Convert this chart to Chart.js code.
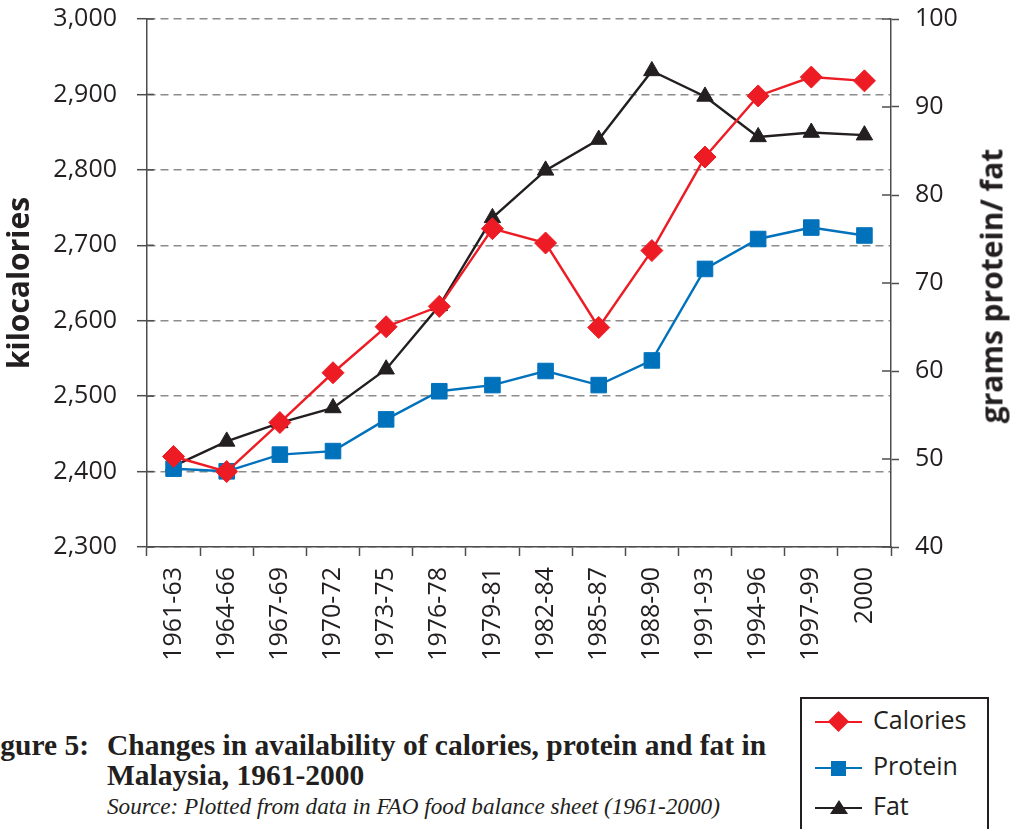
<!DOCTYPE html>
<html>
<head>
<meta charset="utf-8">
<script src="https://cdn.jsdelivr.net/npm/chart.js@4.4.1/dist/chart.umd.min.js"></script>
<style>
  html, body { margin: 0; padding: 0; background: #fff; }
  body { width: 1011px; height: 829px; position: relative; overflow: hidden; color: #231f20; }
  /* the canvas starts a little above the page so the plot top sits at y=19 */
  #wrap { position: absolute; left: 0; top: -16px; width: 1011px; height: 706px; }
  .rtitle {
    position: absolute; left: 991px; top: 286px;
    transform: translate(-50%, -50%) rotate(-90deg);
    font: bold 30px "Open Sans", sans-serif; white-space: nowrap;
  }
  .cap { position: absolute; white-space: nowrap; font-family: "Liberation Serif", "Times New Roman", serif; }
  .fig { font-weight: bold; font-size: 29.5px; line-height: 34px; }
  .src { font-style: italic; font-size: 23.2px; line-height: 26px; }
  #legend {
    position: absolute; left: 800px; top: 697px; width: 189px; height: 150px;
    border: 2px solid #231f20; box-sizing: border-box;
  }
  .item { position: absolute; left: 0; height: 40px; width: 100%; }
  .item .ln { position: absolute; left: 13px; width: 47px; height: 2px; top: 19px; }
  .item .mk { position: absolute; }
  .item .tx { position: absolute; left: 71px; top: 0; line-height: 40px; font: 25px "Open Sans", sans-serif; }
</style>
</head>
<body>
<div id="wrap"><canvas id="c"></canvas></div>
<div class="rtitle">grams protein/ fat</div>

<div class="cap fig" style="right:922px; top:728px;">Figure 5:</div>
<div class="cap fig" style="left:107px; top:728px;">Changes in availability of calories, protein and fat in</div>
<div class="cap fig" style="left:107px; top:758px;">Malaysia, 1961-2000</div>
<div class="cap src" style="left:107px; top:793px;">Source: Plotted from data in FAO food balance sheet (1961-2000)</div>

<div id="legend"></div>

<script>
// Three-year averages of food availability, Malaysia
const periods = ['1961-63', '1964-66', '1967-69', '1970-72', '1973-75', '1976-78', '1979-81',
                 '1982-84', '1985-87', '1988-90', '1991-93', '1994-96', '1997-99', '2000'];
const calories = [2420, 2400, 2465, 2531, 2592, 2619, 2722, 2703, 2591, 2693, 2817, 2898, 2923, 2918];
const protein  = [48.9, 48.6, 50.5, 50.9, 54.5, 57.7, 58.4, 60.0, 58.4, 61.2, 71.6, 75.0, 76.3, 75.4];
const fat      = [49.2, 52.0, 54.1, 55.8, 60.2, 67.4, 77.4, 82.8, 86.3, 94.1, 91.2, 86.6, 87.1, 86.8];

const seriesNames = ['Calories', 'Protein', 'Fat'];
const seriesColors = ['#ed1c24', '#0072bc', '#231f20'];

const INK = '#231f20';
const AXIS = '#4d4d4d';
const TICK_FONT = { family: 'Open Sans', size: 25 };

// short tick stubs on the inner side of both value axes
const innerTicks = {
  id: 'innerTicks',
  beforeDatasetsDraw(chart) {
    const { ctx } = chart;
    const y = chart.scales.y, y1 = chart.scales.y1;
    ctx.save();
    ctx.strokeStyle = AXIS;
    ctx.lineWidth = 1.5;
    y.ticks.forEach((t, i) => {
      const p = y.getPixelForTick(i);
      ctx.beginPath(); ctx.moveTo(y.right, p); ctx.lineTo(y.right + 7, p); ctx.stroke();
    });
    y1.ticks.forEach((t, i) => {
      const p = y1.getPixelForTick(i);
      ctx.beginPath(); ctx.moveTo(y1.left, p); ctx.lineTo(y1.left - 9, p); ctx.stroke();
    });
    ctx.restore();
  }
};

function buildChart() {
  const ctx = document.getElementById('c');
  new Chart(ctx, {
    type: 'line',
    data: {
      labels: periods,
      datasets: [
        { label: seriesNames[0], data: calories, yAxisID: 'y',
          borderColor: seriesColors[0], backgroundColor: seriesColors[0],
          pointStyle: 'rectRot', pointRadius: 11, pointBorderWidth: 1 },
        { label: seriesNames[1], data: protein, yAxisID: 'y1',
          borderColor: seriesColors[1], backgroundColor: seriesColors[1],
          pointStyle: 'rect', pointRadius: 11, pointBorderWidth: 1 },
        { label: seriesNames[2], data: fat, yAxisID: 'y1',
          borderColor: seriesColors[2], backgroundColor: seriesColors[2],
          pointStyle: 'triangle', pointRadius: 9.5, pointBorderWidth: 1 }
      ]
    },
    options: {
      responsive: true,
      maintainAspectRatio: false,
      animation: false,
      events: [],
      layout: { padding: { top: 4, left: 0, right: 0, bottom: 0 } },
      elements: { line: { borderWidth: 2.4, tension: 0 } },
      plugins: { legend: { display: false }, tooltip: { enabled: false } },
      scales: {
        x: {
          offset: true,
          grid: { display: true, drawOnChartArea: false, offset: true,
                  tickLength: 9, tickColor: AXIS, tickWidth: 1.5 },
          border: { color: AXIS, width: 1.5 },
          ticks: { color: INK, font: TICK_FONT, minRotation: 90, maxRotation: 90,
                   autoSkip: false, padding: 11 },
          afterFit(s) { s.height = 143; }
        },
        y: {
          position: 'left',
          min: 2300, max: 3000,
          grid: { color: '#8c8c8c', lineWidth: 1.4, tickLength: 10,
                  tickColor: AXIS, tickWidth: 1.5 },
          border: { color: AXIS, width: 1.5, dash: [8, 5] },
          ticks: { stepSize: 100, color: INK, font: TICK_FONT, padding: 20,
                   callback: v => v.toLocaleString('en-US') },
          title: { display: true, text: 'kilocalories', color: INK,
                   font: { family: 'Open Sans', size: 30, weight: 'bold' },
                   padding: { top: 2, bottom: 0 } },
          afterFit(s) { s.width = 147; }
        },
        y1: {
          position: 'right',
          min: 40, max: 100,
          grid: { drawOnChartArea: false, tickLength: 8, tickColor: AXIS, tickWidth: 1.5 },
          border: { color: AXIS, width: 1.5 },
          ticks: { stepSize: 10, color: INK, font: TICK_FONT, padding: 16 },
          afterFit(s) { s.width = 120; }
        }
      }
    },
    plugins: [innerTicks]
  });
}

// legend entries built from the same series names and colours
function buildLegend() {
  const box = document.getElementById('legend');
  const rows = [23, 69, 109];
  const marks = [
    c => `<div class="mk" style="left:29px;top:12px;width:15px;height:15px;background:${c};transform:rotate(45deg)"></div>`,
    c => `<div class="mk" style="left:29px;top:13px;width:15px;height:15px;background:${c}"></div>`,
    c => `<div class="mk" style="left:28px;top:12px;width:0;height:0;border-left:9px solid transparent;border-right:9px solid transparent;border-bottom:14px solid ${c}"></div>`
  ];
  seriesNames.forEach((name, i) => {
    const el = document.createElement('div');
    el.className = 'item';
    el.style.top = (rows[i] - 20) + 'px';
    el.innerHTML = `<div class="ln" style="background:${seriesColors[i]}"></div>` +
                   marks[i](seriesColors[i]) + `<div class="tx">${name}</div>`;
    box.appendChild(el);
  });
}

buildLegend();
Promise.all([
  document.fonts.load('25px "Open Sans"'),
  document.fonts.load('bold 30px "Open Sans"')
]).then(buildChart, buildChart);
</script>
</body>
</html>
